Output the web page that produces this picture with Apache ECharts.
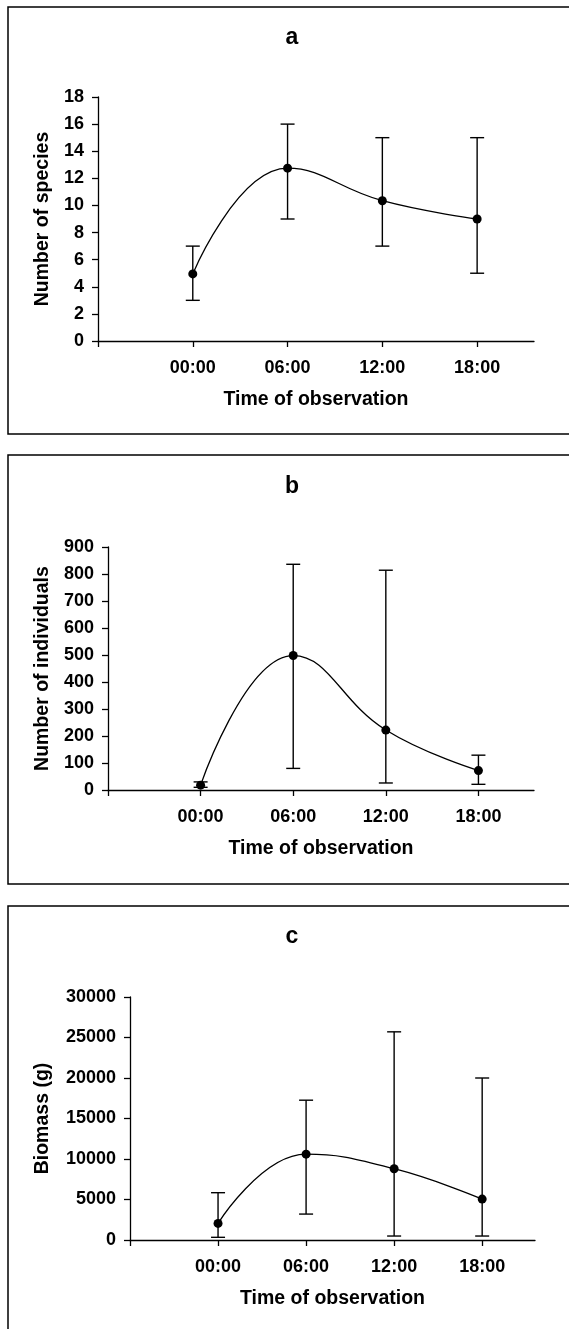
<!DOCTYPE html>
<html>
<head>
<meta charset="utf-8">
<script src="https://cdn.jsdelivr.net/npm/echarts@6/dist/echarts.min.js"></script>
<style>
  html, body { margin: 0; padding: 0; background: #fff; }
  #chart { width: 569px; height: 1329px; }
</style>
</head>
<body>
<div id="chart"></div>
<script>
// ---- data ----
const timeLabels = ['00:00', '06:00', '12:00', '18:00'];
const xTickValues = [-1, 0, 1, 2, 3];

const speciesMean = [4.95, 12.75, 10.35, 9.0];
const speciesLow  = [3, 9, 7, 5];
const speciesHigh = [7, 16, 15, 15];
const speciesTicks = [0, 18, 2];

const individualsMean = [18, 498, 222, 72];
const individualsLow  = [10, 80, 26, 21];
const individualsHigh = [30, 836, 814, 129];
const individualsTicks = [0, 900, 100];

const biomassMean = [2050, 10600, 8800, 5050];
const biomassLow  = [330, 3200, 490, 490];
const biomassHigh = [5840, 17260, 25700, 20000];
const biomassTicks = [0, 30000, 5000];

const panelTitles = ['a', 'b', 'c'];
const yNames = ['Number of species', 'Number of individuals', 'Biomass (g)'];
const xName = 'Time of observation';

// ---- layout ----
const FONT = 'Liberation Sans';
const panels = [
  { mean: speciesMean, low: speciesLow, high: speciesHigh, ticks: speciesTicks,
    grid: { left: 98, top: 97, width: 436, height: 244 }, yGap: 45, box: [8, 7, 427], titleY: 38 },
  { mean: individualsMean, low: individualsLow, high: individualsHigh, ticks: individualsTicks,
    grid: { left: 108, top: 547, width: 426, height: 243 }, yGap: 55, box: [8, 455, 429], titleY: 487 },
  { mean: biomassMean, low: biomassLow, high: biomassHigh, ticks: biomassTicks,
    grid: { left: 130, top: 997, width: 405, height: 243 }, yGap: 77, box: [8, 906, 500], titleY: 937 }
];

const grids = [], xAxes = [], yAxes = [], series = [], graphics = [];
const txt = { color: '#000', fontWeight: 'bold', fontFamily: FONT };

panels.forEach((p, i) => {
  grids.push(Object.assign({ containLabel: false, outerBoundsMode: 'none' }, p.grid));
  xAxes.push({
    type: 'value', gridIndex: i, min: -1, max: 3.6, interval: 1,
    axisLine: { show: true, onZero: false, lineStyle: { color: '#000', width: 1.3 } },
    axisTick: { show: true, length: 6, customValues: xTickValues, lineStyle: { color: '#000', width: 1.3 } },
    axisLabel: Object.assign({ customValues: [0, 1, 2, 3], margin: 18, fontSize: 18,
      formatter: v => timeLabels[Math.round(v)] || '' }, txt),
    splitLine: { show: false },
    name: xName, nameLocation: 'middle', nameGap: 49,
    nameTextStyle: Object.assign({ fontSize: 19.5 }, txt)
  });
  yAxes.push({
    type: 'value', gridIndex: i, min: p.ticks[0], max: p.ticks[1], interval: p.ticks[2],
    axisLine: { show: true, onZero: false, lineStyle: { color: '#000', width: 1.3 } },
    axisTick: { show: true, length: 6, lineStyle: { color: '#000', width: 1.3 } },
    axisLabel: Object.assign({ margin: 14, fontSize: 18, formatter: v => String(v) }, txt),
    splitLine: { show: false },
    name: yNames[i], nameLocation: 'middle', nameGap: p.yGap,
    nameTextStyle: Object.assign({ fontSize: 19.5 }, txt)
  });
  const errData = p.mean.map((m, k) => [k, p.low[k], p.high[k]]);
  series.push({
    type: 'custom', xAxisIndex: i, yAxisIndex: i, data: errData,
    encode: { x: 0, y: [1, 2] }, silent: true, z: 2,
    renderItem: (params, api) => {
      const x = api.value(0);
      const lo = api.coord([x, api.value(1)]);
      const hi = api.coord([x, api.value(2)]);
      const w = 7;
      const st = { stroke: '#000', lineWidth: 1.4 };
      return { type: 'group', children: [
        { type: 'line', shape: { x1: lo[0], y1: lo[1], x2: hi[0], y2: hi[1] }, style: st },
        { type: 'line', shape: { x1: lo[0] - w, y1: lo[1], x2: lo[0] + w, y2: lo[1] }, style: st },
        { type: 'line', shape: { x1: hi[0] - w, y1: hi[1], x2: hi[0] + w, y2: hi[1] }, style: st }
      ] };
    }
  });
  series.push({
    type: 'line', xAxisIndex: i, yAxisIndex: i, z: 3,
    data: p.mean.map((m, k) => [k, m]),
    smooth: 0.45, symbol: 'circle', symbolSize: 9, showSymbol: true,
    lineStyle: { color: '#000', width: 1.3 },
    itemStyle: { color: '#000' }, animation: false
  });
  graphics.push({
    type: 'rect', shape: { x: p.box[0], y: p.box[1], width: 600, height: p.box[2] },
    style: { fill: 'none', stroke: '#000', lineWidth: 1.5 }, silent: true
  });
  graphics.push({
    type: 'text', x: 292, y: p.titleY,
    style: { text: panelTitles[i], align: 'center', verticalAlign: 'middle',
      font: 'bold 23px ' + FONT, fill: '#000' }, silent: true
  });
});

const chart = echarts.init(document.getElementById('chart'), null, { renderer: 'canvas' });
chart.setOption({
  animation: false,
  backgroundColor: '#fff',
  grid: grids, xAxis: xAxes, yAxis: yAxes, series: series,
  graphic: graphics
});
</script>
</body>
</html>
